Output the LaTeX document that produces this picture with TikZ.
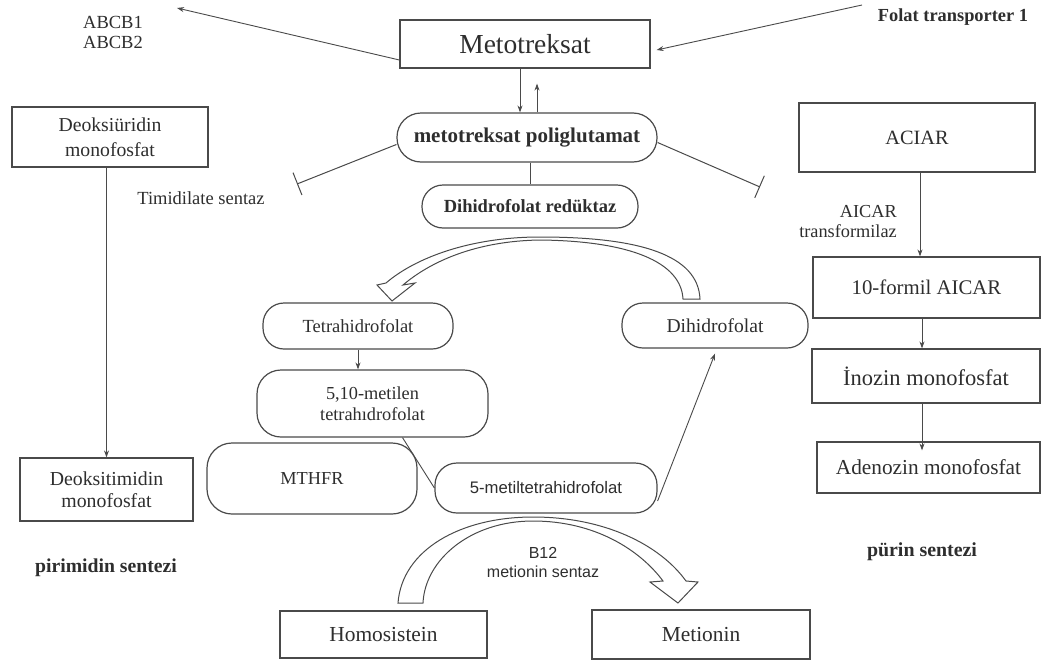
\documentclass[tikz,border=0pt]{standalone}
\usepackage{fontspec}
\setmainfont{Liberation Serif}
\newfontfamily\arialf{Liberation Sans}
\usetikzlibrary{arrows.meta}
\definecolor{txtc}{HTML}{2E2E2E}
\definecolor{linec}{HTML}{4A4A4A}
\newcommand\fsz[2]{\fontsize{#1}{#2}\selectfont}
\begin{document}
\begin{tikzpicture}[x=1pt,y=-1pt,
  box/.style={draw=linec, line width=1.2pt, inner sep=0pt, align=center, text=txtc},
  rbox/.style={box, rounded corners=20pt},
  lbl/.style={inner sep=0pt, align=center, text=txtc},
  arr/.style={draw=linec, line width=0.9pt, -{Stealth[length=7pt,width=5pt]}},
  conn/.style={draw=linec, line width=0.9pt},
  inh/.style={draw=linec, line width=1pt, -{Bar[width=24pt,line width=1pt]}},
  blockarrow/.style={draw=linec, line width=1pt, fill=white, line join=miter}
]
\fill[white] (0,0) rectangle (1041,664);
\useasboundingbox (0,0) rectangle (1041,664);

% top
\node[box, minimum width=250pt, minimum height=48pt, font=\fsz{27.5}{30}] (met) at (525,44) {Metotreksat};
\node[lbl, font=\fsz{18.5}{20}] (abcb) at (113,32) {ABCB1\\ABCB2};
\node[lbl, font=\bfseries\fsz{18.4}{20}] (folat) at (953,17) {Folat transporter 1};
\coordinate (abcbEnd) at (177,8);
\coordinate (folatStart) at (862,5);
\draw[arr] ([yshift=-16pt]met.west) -- (abcbEnd);
\draw[arr] (folatStart) -- ([xshift=6pt,yshift=-6pt]met.east);

\node[rbox, rounded corners=24pt, minimum width=260pt, minimum height=49pt, font=\bfseries\fsz{21}{24}] (poli) at (527,137.5) {metotreksat poliglutamat};
\node[rbox, rounded corners=21pt, minimum width=216pt, minimum height=43pt, font=\bfseries\fsz{18.5}{21}] (dhfr) at (530,206.5) {Dihidrofolat redüktaz};

\draw[arr] ([xshift=-5pt]met.south) -- ([xshift=-5pt]met.south |- poli.north);
\draw[arr] ([xshift=12pt]met.south |- poli.north) -- ([xshift=12pt,yshift=-15pt]met.south);
\draw[conn] (dhfr.north |- poli.south) -- (dhfr.north);

\coordinate (inhL) at (297,184);
\coordinate (inhR) at (760,187);
\draw[inh] ([yshift=-7pt]poli.west) -- (inhL);
\draw[inh] ([yshift=-5pt]poli.east) -- (inhR);

% left column
\node[box, minimum width=196pt, minimum height=60pt, font=\fsz{19.7}{25}] (dump) at (110,137) {Deoksiüridin\\monofosfat};
\node[lbl, font=\fsz{18.5}{20}] (tim) at (201,198) {Timidilate sentaz};
\node[box, minimum width=173pt, minimum height=63pt, font=\fsz{19.8}{22}] (dtmp) at (106.5,489.5) {Deoksitimidin\\monofosfat};
\node[lbl, font=\bfseries\fsz{19.7}{22}] (pirim) at (106,568) {pirimidin sentezi};
\draw[arr] (dtmp.north |- dump.south) -- (dtmp.north);

% right column
\node[box, minimum width=236pt, minimum height=69pt, font=\fsz{20.3}{22}] (aciar) at (917,137.5) {ACIAR};
\node[lbl, align=right, anchor=east, font=\fsz{18.3}{20}] (aicar) at (897,222) {AICAR\\transformilaz};
\node[box, minimum width=227pt, minimum height=61pt, font=\fsz{20.8}{22}] (form) at (926.5,287.5) {10-formil AICAR};
\node[box, minimum width=228pt, minimum height=54pt, font=\fsz{22.5}{24}] (ino) at (926,376) {İnozin monofosfat};
\node[box, minimum width=223pt, minimum height=51pt, font=\fsz{21.3}{24}] (ade) at (928.5,467.5) {Adenozin monofosfat};
\node[lbl, font=\bfseries\fsz{19.9}{22}] (purin) at (922,552) {pürin sentezi};
\draw[arr] ([xshift=3pt]aciar.south) -- ([xshift=3pt]aciar.south |- form.north);
\draw[arr] ([xshift=-4.5pt]form.south) -- ([xshift=-4.5pt]form.south |- ino.north);
\draw[arr] ([xshift=-4pt]ino.south) -- ([xshift=-4pt,yshift=-9pt]ino.south |- ade.north);

% middle cycle
\node[rbox, rounded corners=21pt, minimum width=190pt, minimum height=46pt, font=\fsz{18.5}{21}] (thf) at (358,326) {Tetrahidrofolat};
\node[rbox, rounded corners=21pt, minimum width=186pt, minimum height=45pt, font=\fsz{19.6}{21}] (dhf) at (715,325.5) {Dihidrofolat};
\node[rbox, rounded corners=24pt, minimum width=231pt, minimum height=67pt, font=\fsz{18.3}{21}] (m510) at (372.5,403.5) {5,10-metilen\\tetrahıdrofolat};
\node[rbox, rounded corners=25pt, minimum width=210pt, minimum height=71pt, font=\fsz{18.3}{21}] (mthfr) at (312,478.5) {MTHFR};
\node[rbox, rounded corners=22pt, minimum width=222pt, minimum height=50pt, font=\arialf\fsz{16.7}{19}] (mtf5) at (546,488) {5-metiltetrahidrofolat};

\draw[arr] (thf.south) -- (thf.south |- m510.north);
\draw[conn] ([xshift=30pt]m510.south) -- (mtf5.west);
\draw[arr] ([yshift=-13pt]mtf5.east) -- ([yshift=-5pt]dhf.south);

% upper block arrow (Dihidrofolat -> Tetrahidrofolat)
\draw[blockarrow] (700,299) .. controls (698,255) and (640,237) .. (540,237)
  .. controls (470,237) and (415,258) .. (386,283)
  -- (377,285) -- (392,301) -- (415,283) -- (403,285)
  .. controls (430,262) and (475,241) .. (540,240)
  .. controls (630,241) and (681,262) .. (683,299) -- cycle;

% lower block arrow (Homosistein -> Metionin)
\draw[blockarrow] (398,603) .. controls (402,550) and (460,517) .. (533,517)
  .. controls (605,517) and (660,545) .. (686,581)
  -- (698,582) -- (678,603) -- (650,582) -- (663,581)
  .. controls (640,550) and (595,521) .. (533,521)
  .. controls (470,521) and (425,560) .. (423,603) -- cycle;

\node[lbl, font=\arialf\fsz{16}{19}] (b12) at (543,562.5) {B12\\metionin sentaz};
\node[box, minimum width=207pt, minimum height=47pt, font=\fsz{21.4}{24}] (homo) at (383.5,634.5) {Homosistein};
\node[box, minimum width=218pt, minimum height=49pt, font=\fsz{21.4}{24}] (meti) at (701,634.5) {Metionin};
\end{tikzpicture}
\end{document}
